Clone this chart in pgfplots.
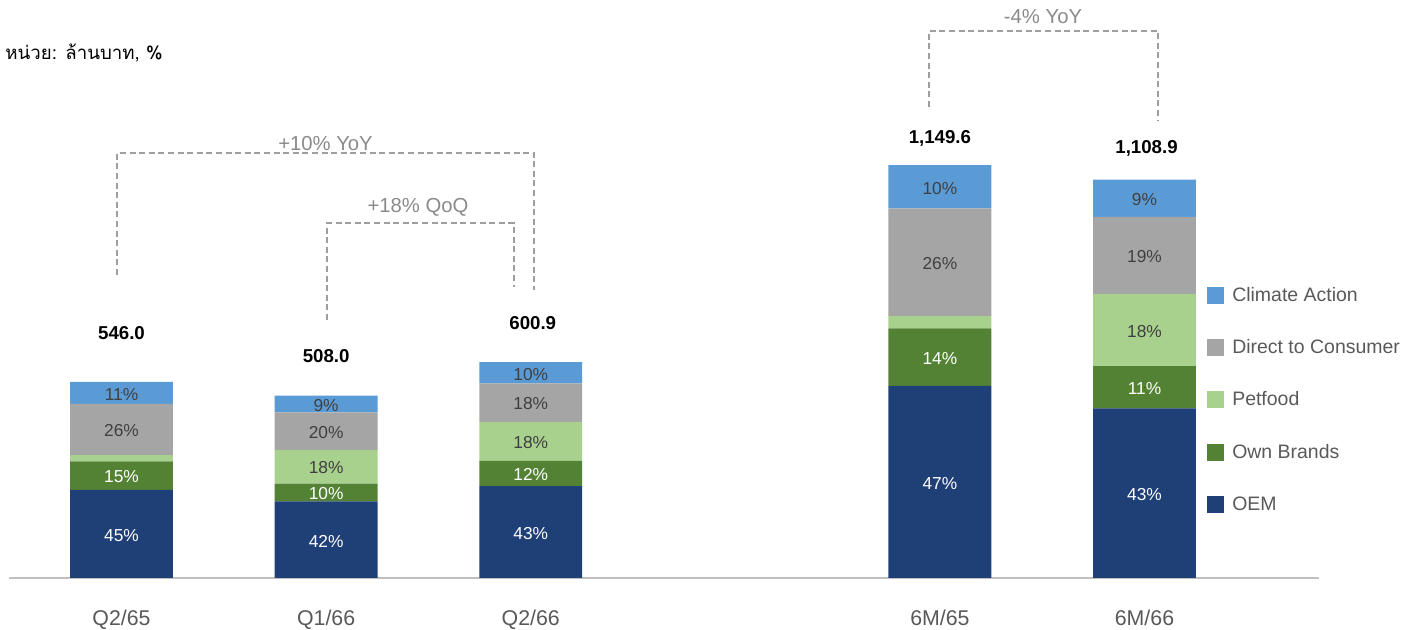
\documentclass[border=0pt]{standalone}
\usepackage{pgfplots}
\pgfplotsset{compat=1.18}
\usepackage{fontspec}
\setmainfont{Liberation Sans}
\newfontfamily\thaifont[Script=Thai]{Loma}
\definecolor{cOEM}{HTML}{1F3F77}
\definecolor{cOB}{HTML}{548235}
\definecolor{cPet}{HTML}{A9D18E}
\definecolor{cDtC}{HTML}{A5A5A5}
\definecolor{cCA}{HTML}{5B9BD5}
\definecolor{cAxis}{HTML}{BFBFBF}
\definecolor{cLab}{HTML}{595959}
\definecolor{cIn}{HTML}{404040}
\definecolor{cDash}{HTML}{9E9E9E}
\definecolor{cAnn}{HTML}{8A8A8A}
\pgfplotsset{sq/.style={legend image code/.code={\fill[##1] (0pt,-6.4pt) rectangle (12.75pt,6.4pt);}}}
\begin{document}
\begin{tikzpicture}
\useasboundingbox (-6.75pt,-39pt) rectangle (1053pt,433.5pt);
\begin{axis}[
  scale only axis, width=982.5pt, height=433.5pt,
  xmin=-0.550, xmax=5.853, ymin=0, ymax=1609.1,
  axis x line*=bottom, axis y line=none,
  x axis line style={draw=cAxis, line width=1pt},
  ytick=\empty,
  xtick={0,1,2,4,5}, xticklabels={Q2/65,Q1/66,Q2/66,6M/65,6M/66},
  major tick length=0pt,
  xticklabel style={font=\fontsize{16}{18}\selectfont, text=cLab, anchor=base, yshift=-35.5pt},
  ybar stacked, bar width=0.503,
  clip=false,
  reverse legend,
  legend cell align=left,
  legend style={draw=none, fill=none, at={(axis cs:5.3055,814.3)}, anchor=north west,
    font=\fontsize{14.6}{16}\selectfont, text=cLab, row sep=25.2pt, column sep=5pt,
    inner sep=0pt, nodes={inner sep=1pt}},
]
\addplot[fill=cOEM, draw=none, sq] coordinates {(0,245) (1,213) (2,256) (4,535) (5,472)};
\addlegendentry{OEM}
\addplot[fill=cOB, draw=none, sq] coordinates {(0,80) (1,50) (2,70) (4,160) (5,118)};
\addlegendentry{Own Brands}
\addplot[fill=cPet, draw=none, sq] coordinates {(0,17) (1,94) (2,108) (4,34) (5,201)};
\addlegendentry{Petfood}
\addplot[fill=cDtC, draw=none, sq] coordinates {(0,143) (1,104) (2,108) (4,300) (5,214)};
\addlegendentry{Direct to Consumer}
\addplot[fill=cCA, draw=none, sq] coordinates {(0,61) (1,47) (2,58.9) (4,120.6) (5,103.9)};
\addlegendentry{Climate Action}

\node[font=\fontsize{14}{16}\selectfont\bfseries] at (axis cs:0,682) {546.0};
\node[font=\fontsize{14}{16}\selectfont\bfseries] at (axis cs:1,618) {508.0};
\node[font=\fontsize{14}{16}\selectfont\bfseries] at (axis cs:2.01,710) {600.9};
\node[font=\fontsize{14}{16}\selectfont\bfseries] at (axis cs:4,1225) {1,149.6};
\node[font=\fontsize{14}{16}\selectfont\bfseries] at (axis cs:5.01,1197) {1,108.9};

\draw[cDash, line width=1pt, dash pattern=on 4.5pt off 2.7pt] (axis cs:-0.0215,843.5) -- (axis cs:-0.0215,1183.2) -- (axis cs:2.016,1183.2) -- (axis cs:2.016,801.8);
\draw[cDash, line width=1pt, dash pattern=on 4.5pt off 2.7pt] (axis cs:1.0044,718.3) -- (axis cs:1.0044,988.3) -- (axis cs:1.9184,988.3) -- (axis cs:1.9184,810.1);
\draw[cDash, line width=1pt, dash pattern=on 4.5pt off 2.7pt] (axis cs:3.947,1311.2) -- (axis cs:3.947,1522.8) -- (axis cs:5.066,1522.8) -- (axis cs:5.066,1275.1);

\node[font=\fontsize{15.2}{17}\selectfont, text=cAnn] at (axis cs:0.997,1208.2) {+10\% YoY};
\node[font=\fontsize{15.2}{17}\selectfont, text=cAnn] at (axis cs:1.449,1032.9) {+18\% QoQ};
\node[font=\fontsize{15.2}{17}\selectfont, text=cAnn] at (axis cs:4.504,1561.8) {-4\% YoY};

\node[anchor=west, inner sep=0pt, font=\thaifont\fontsize{14}{16}\selectfont] at (axis cs:-0.5694,1461.6) {หน่วย: ล้านบาท, \%};
\end{axis}
% overlay axis for segment share labels (centred in each segment)
\begin{axis}[
  scale only axis, width=982.5pt, height=433.5pt,
  xmin=-0.550, xmax=5.853, ymin=0, ymax=1609.1,
  axis lines=none, xtick=\empty, ytick=\empty, clip=false,
  nodes near coords, nodes near coords align={center},
  point meta=explicit symbolic,
]
\addplot[only marks, mark=*, mark size=0.01pt, mark options={draw=none, fill=none},
  every node near coord/.append style={font=\fontsize{13}{15}\selectfont, text=white, anchor=center, yshift=-1pt}]
  coordinates {
  (0,122.5) [45\%] (0,285) [15\%]
  (1,106.5) [42\%] (1,238) [10\%]
  (2,128) [43\%] (2,291) [12\%]
  (4,267.5) [47\%] (4,615) [14\%]
  (5,236) [43\%] (5,531) [11\%]
  };
\addplot[only marks, mark=*, mark size=0.01pt, mark options={draw=none, fill=none},
  every node near coord/.append style={font=\fontsize{13}{15}\selectfont, text=cIn, anchor=center, yshift=-1pt}]
  coordinates {
  (0,413.5) [26\%] (0,515.5) [11\%]
  (1,310) [18\%] (1,409) [20\%] (1,484.5) [9\%]
  (2,380) [18\%] (2,488) [18\%] (2,571.45) [10\%]
  (4,879) [26\%] (4,1089.3) [10\%]
  (5,690.5) [18\%] (5,898) [19\%] (5,1056.95) [9\%]
  };
\end{axis}
\end{tikzpicture}
\end{document}
